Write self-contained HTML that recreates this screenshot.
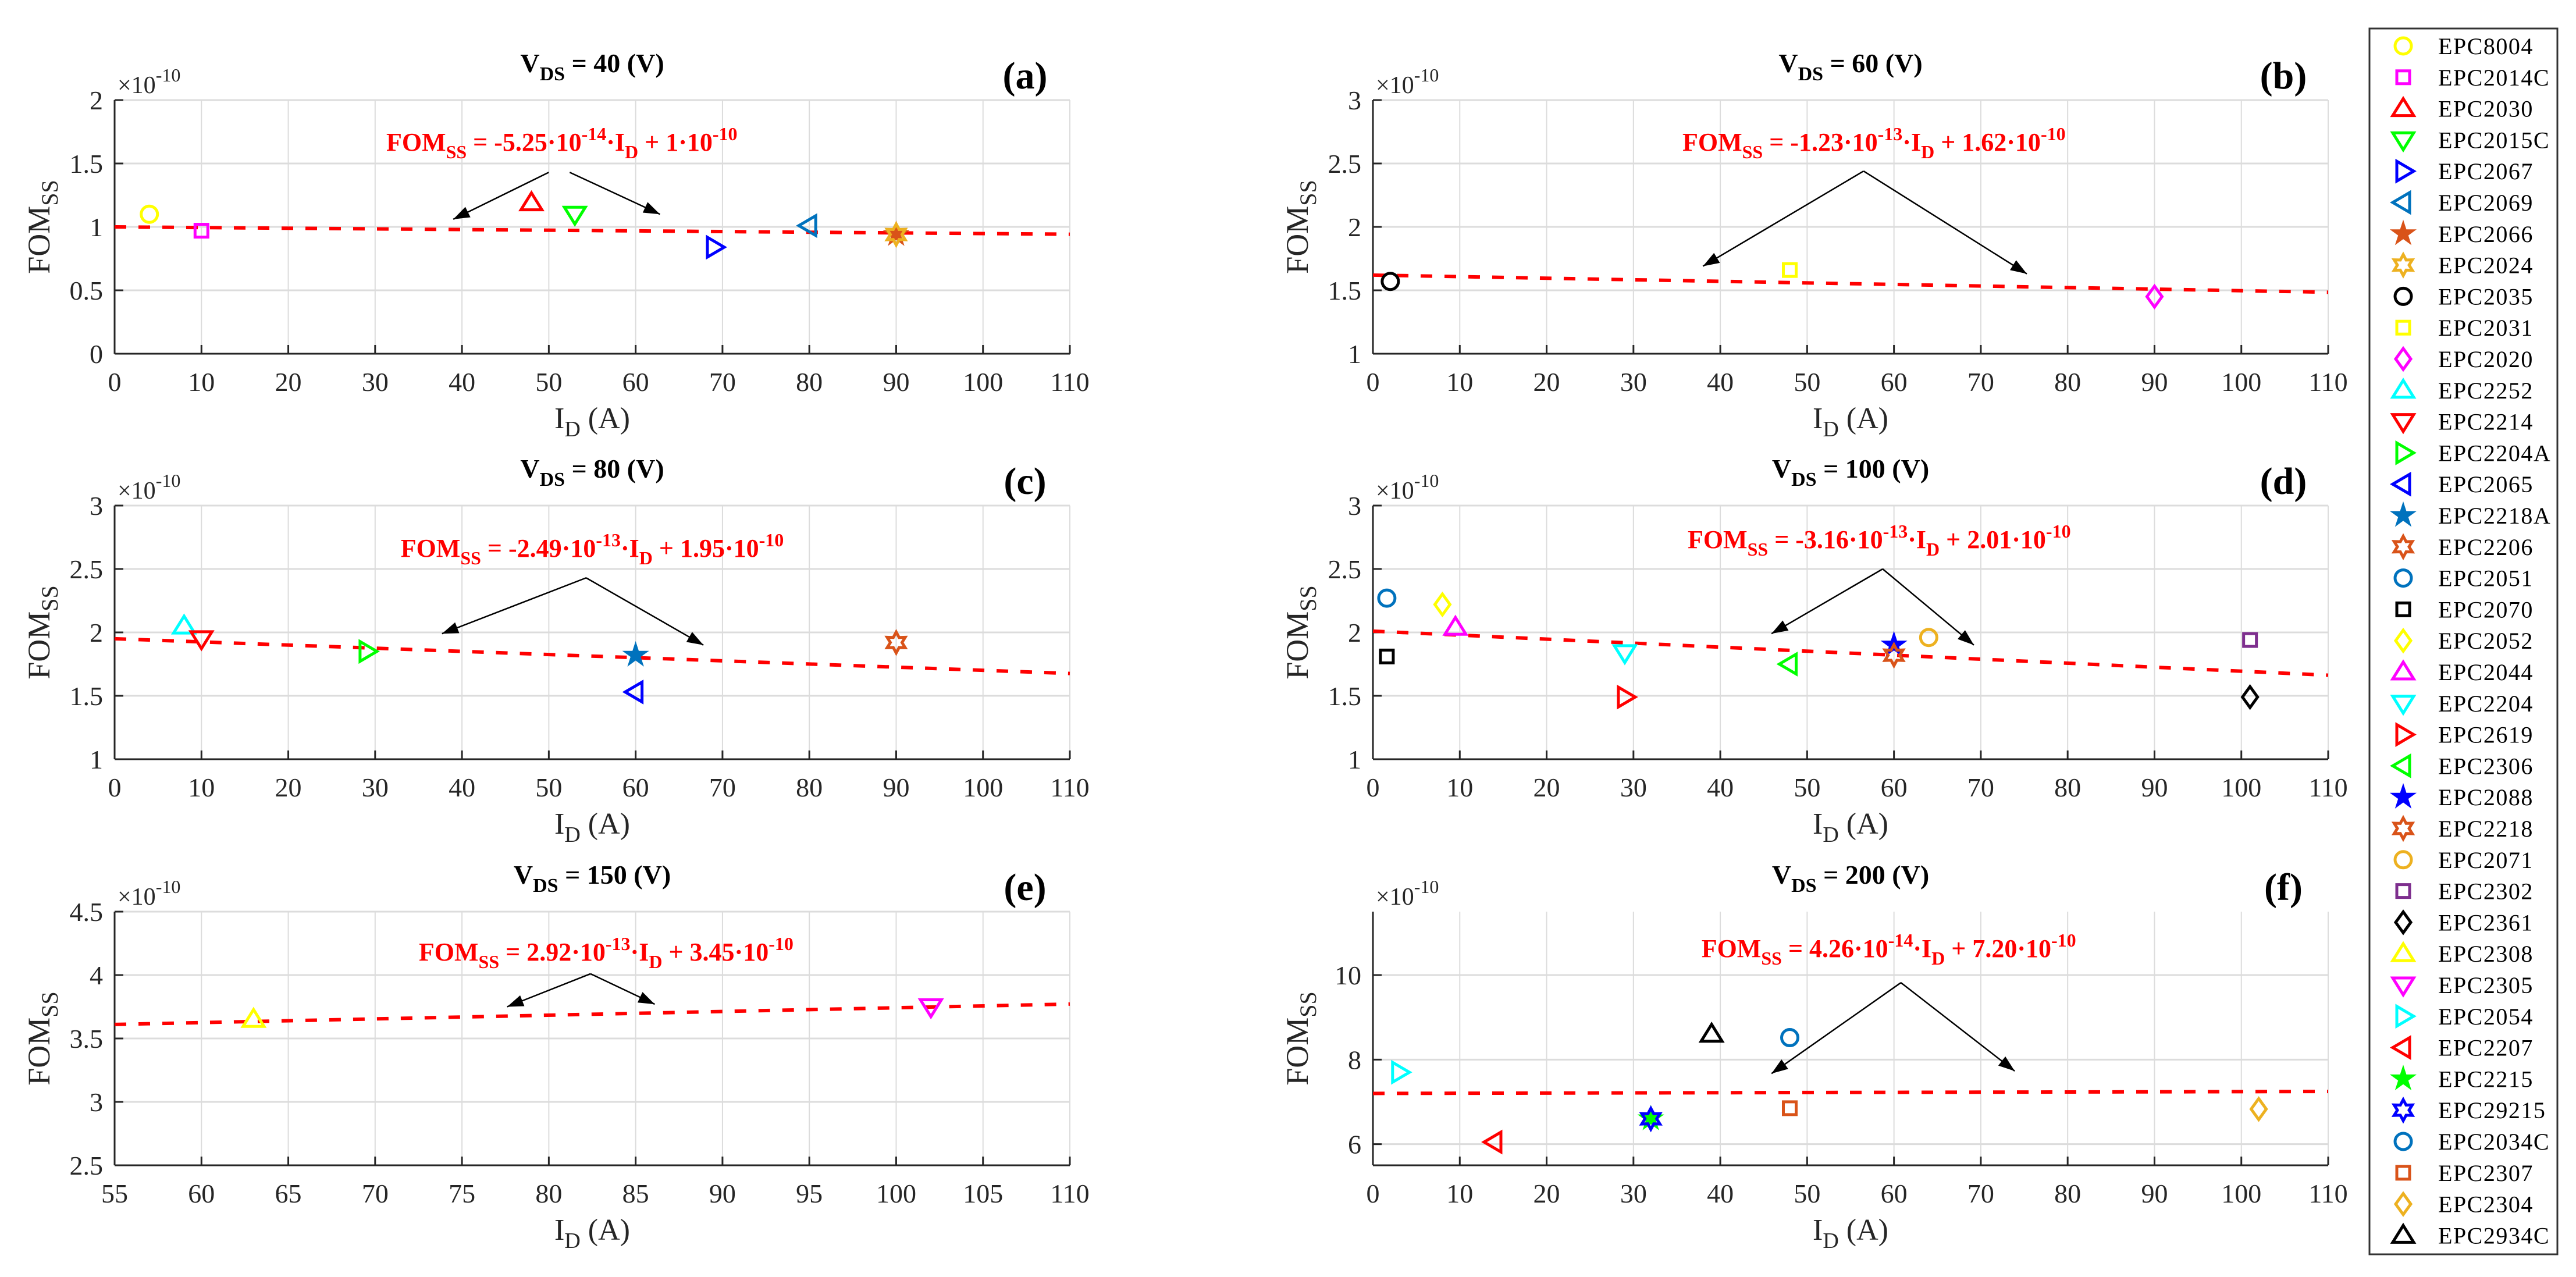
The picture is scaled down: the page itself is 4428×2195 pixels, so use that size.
<!DOCTYPE html>
<html>
<head>
<meta charset="utf-8">
<style>
html,body{margin:0;padding:0;background:#fff;}
svg{display:block;font-family:"Liberation Serif","DejaVu Serif",serif;}
</style>
</head>
<body>
<svg id="fig" xmlns="http://www.w3.org/2000/svg" width="4428" height="2195" viewBox="0 0 4428 2195"></svg>
<script>
// ---- data ----
const deviceNames = ["EPC8004","EPC2014C","EPC2030","EPC2015C","EPC2067","EPC2069","EPC2066","EPC2024","EPC2035","EPC2031","EPC2020","EPC2252","EPC2214","EPC2204A","EPC2065","EPC2218A","EPC2206","EPC2051","EPC2070","EPC2052","EPC2044","EPC2204","EPC2619","EPC2306","EPC2088","EPC2218","EPC2071","EPC2302","EPC2361","EPC2308","EPC2305","EPC2054","EPC2207","EPC2215","EPC29215","EPC2034C","EPC2307","EPC2304","EPC2934C"];
const devicePanel = ["a","a","a","a","a","a","a","a","b","b","b","c","c","c","c","c","c","d","d","d","d","d","d","d","d","d","d","d","d","e","e","f","f","f","f","f","f","f","f"];
const deviceCurrent = [4,10,48,53,69,80,90,90, 2,48,90, 8,10,29,60,60,90, 1.6,1.6,8,9.5,29,29,48,60,60,64,101,101, 63,102, 3,14,32,32,48,48,102,39];
const deviceFom = [1.10,0.97,1.19,1.10,0.84,1.01,0.94,0.94, 1.57,1.66,1.45, 2.05,1.95,1.85,1.53,1.82,1.92, 2.27,1.81,2.22,2.04,1.84,1.49,1.75,1.90,1.82,1.96,1.94,1.49, 3.65,3.75, 7.70,6.05,6.60,6.60,8.52,6.85,6.83,8.60];
const panelIds = ["a","b","c","d","e","f"];
const panelVds = ["40","60","80","100","150","200"];
const fitSlope = [-0.000525,-0.00123,-0.00249,-0.00316,0.00292,0.000426];
const fitIntercept = [1,1.62,1.95,2.01,3.45,7.20];
const eqSlopeText = ["-5.25·10","-1.23·10","-2.49·10","-3.16·10","2.92·10","4.26·10"];
const eqSlopeExp = ["-14","-13","-13","-13","-13","-14"];
const eqInterText = ["1·10","1.62·10","1.95·10","2.01·10","3.45·10","7.20·10"];
const xTickLabels = [["0","10","20","30","40","50","60","70","80","90","100","110"],["0","10","20","30","40","50","60","70","80","90","100","110"],["0","10","20","30","40","50","60","70","80","90","100","110"],["0","10","20","30","40","50","60","70","80","90","100","110"],["55","60","65","70","75","80","85","90","95","100","105","110"],["0","10","20","30","40","50","60","70","80","90","100","110"]];
const yTickLabels = [["0","0.5","1","1.5","2"],["1","1.5","2","2.5","3"],["1","1.5","2","2.5","3"],["1","1.5","2","2.5","3"],["2.5","3","3.5","4","4.5"],["6","8","10"]];
const xLimits = [[0,110],[0,110],[0,110],[0,110],[55,110],[0,110]];
const yLimits = [[0,2],[1,3],[1,3],[1,3],[2.5,4.5],[5.5,11.5]];
// annotation anchor points in data coordinates: equation center, arrow start, arrow ends
const eqX = [51.5,57.7,55,58.3,83.3,59.4];
const eqY = [1.665,2.665,2.66,2.73,4.18,10.62];
const arrowFromX = [51.2,56.5,54.3,58.7,82.4,60.8];
const arrowFromY = [1.43,2.44,2.43,2.50,4.01,9.82];
const arrowEnd1X = [39,38,37.7,45.9,77.6,45.9];
const arrowEnd1Y = [1.06,1.69,1.99,1.99,3.75,7.67];
const arrowEnd2X = [62.8,75.3,67.8,69.2,86.1,73.9];
const arrowEnd2Y = [1.10,1.63,1.90,1.90,3.77,7.73];

// ---- styles ----
const markerType = ["o","s","^","v",">","<","p","h","o","s","d","^","v",">","<","p","h","o","s","d","^","v",">","<","p","h","o","s","d","^","v",">","<","p","h","o","s","d","^"];
const C_BLUE="#0072bd",C_OR="#d95319",C_GOLD="#edb120",C_PUR="#7e2f8e";
const markerColor = ["#ffff00","#ff00ff","#ff0000","#00ff00","#0000ff",C_BLUE,C_OR,C_GOLD,"#000000","#ffff00","#ff00ff","#00ffff","#ff0000","#00ff00","#0000ff",C_BLUE,C_OR,C_BLUE,"#000000","#ffff00","#ff00ff","#00ffff","#ff0000","#00ff00","#0000ff",C_OR,C_GOLD,C_PUR,"#000000","#ffff00","#ff00ff","#00ffff","#ff0000","#00ff00","#0000ff",C_BLUE,C_OR,C_GOLD,"#000000"];
const panelLeft=[197,2360,197,2360,197,2360];
const panelTop=[172,172,869,869,1567,1567];
const PW=1642, PH=436;

const NS="http://www.w3.org/2000/svg";
const svg=document.getElementById('fig');
function mk(tag,attrs,parent){const e=document.createElementNS(NS,tag);for(const k in attrs)e.setAttribute(k,attrs[k]);(parent||svg).appendChild(e);return e;}

function drawMarker(g,type,cx,cy,color,name){
  let e;const sw=5;
  if(type==="o"){e=mk('circle',{cx:cx,cy:cy,r:14,fill:'none',stroke:color,'stroke-width':sw},g);}
  else if(type==="s"){e=mk('rect',{x:cx-11,y:cy-11,width:22,height:22,fill:'none',stroke:color,'stroke-width':sw},g);}
  else if(type==="d"){e=mk('polygon',{points:`${cx},${cy-18} ${cx+13},${cy} ${cx},${cy+18} ${cx-13},${cy}`,fill:'none',stroke:color,'stroke-width':sw},g);}
  else if(type==="^"){e=mk('polygon',{points:`${cx},${cy-17} ${cx+18},${cy+12} ${cx-18},${cy+12}`,fill:'none',stroke:color,'stroke-width':sw},g);}
  else if(type==="v"){e=mk('polygon',{points:`${cx},${cy+17} ${cx+18},${cy-12} ${cx-18},${cy-12}`,fill:'none',stroke:color,'stroke-width':sw},g);}
  else if(type===">"){e=mk('polygon',{points:`${cx+18},${cy} ${cx-11},${cy-17} ${cx-11},${cy+17}`,fill:'none',stroke:color,'stroke-width':sw},g);}
  else if(type==="<"){e=mk('polygon',{points:`${cx-18},${cy} ${cx+11},${cy-17} ${cx+11},${cy+17}`,fill:'none',stroke:color,'stroke-width':sw},g);}
  else if(type==="p"){let p=[];for(let i=0;i<10;i++){const r=i%2?8:21;const a=-Math.PI/2+i*Math.PI/5;p.push((cx+r*Math.cos(a)).toFixed(1)+','+(cy+r*Math.sin(a)).toFixed(1));}
    e=mk('polygon',{points:p.join(' '),fill:color,stroke:color,'stroke-width':2},g);}
  else {let p=[];for(let i=0;i<12;i++){const r=i%2?10:18;const a=-Math.PI/2+i*Math.PI/6;p.push((cx+r*Math.cos(a)).toFixed(1)+','+(cy+r*Math.sin(a)).toFixed(1));}
    e=mk('polygon',{points:p.join(' '),fill:'none',stroke:color,'stroke-width':sw},g);}
  
  
  return e;
}

function arrow(g,x1,y1,x2,y2,name){
  const ln=mk('line',{x1:x1,y1:y1,x2:x2,y2:y2,stroke:'#000','stroke-width':2.5},g);
  
  
  const a=Math.atan2(y2-y1,x2-x1),L=28,Wd=10;
  const bx=x2-L*Math.cos(a),by=y2-L*Math.sin(a);
  const px=-Math.sin(a)*Wd,py=Math.cos(a)*Wd;
  const hd=mk('polygon',{points:`${x2},${y2} ${bx+px},${by+py} ${bx-px},${by-py}`,fill:'#000'},g);
  
  
}

panelIds.forEach((pid,pi)=>{
  const x0=panelLeft[pi],y0=panelTop[pi];
  const [xmin,xmax]=xLimits[pi],[ymin,ymax]=yLimits[pi];
  const sx=v=>x0+(v-xmin)/(xmax-xmin)*PW;
  const sy=v=>y0+PH-(v-ymin)/(ymax-ymin)*PH;
  const g=mk('g',{});
  
  
  // grid
  xTickLabels[pi].forEach(t=>{const v=parseFloat(t);const X=sx(v);
    const gl=mk('line',{x1:X,y1:y0,x2:X,y2:y0+PH,stroke:'#dcdcdc','stroke-width':2},g);
    
    });
  yTickLabels[pi].forEach(t=>{const v=parseFloat(t);const Y=sy(v);
    const gl=mk('line',{x1:x0,y1:Y,x2:x0+PW,y2:Y,stroke:'#dcdcdc','stroke-width':3},g);
    
    });
  // axes
  const ax=mk('line',{x1:x0,y1:y0+PH,x2:x0+PW,y2:y0+PH,stroke:'#262626','stroke-width':3},g);
  
  
  const ay=mk('line',{x1:x0,y1:y0,x2:x0,y2:y0+PH,stroke:'#262626','stroke-width':3},g);
  
  
  xTickLabels[pi].forEach(t=>{const v=parseFloat(t);const X=sx(v);
    const tk=mk('line',{x1:X,y1:y0+PH,x2:X,y2:y0+PH-15,stroke:'#262626','stroke-width':3},g);
    
    
    const tl=mk('text',{x:X,y:y0+PH+64,'text-anchor':'middle','font-size':46,fill:'#262626'},g);
    tl.textContent=t;
    
    });
  yTickLabels[pi].forEach(t=>{const v=parseFloat(t);const Y=sy(v);
    const tk=mk('line',{x1:x0,y1:Y,x2:x0+15,y2:Y,stroke:'#262626','stroke-width':3},g);
    
    
    const tl=mk('text',{x:x0-20,y:Y+16,'text-anchor':'end','font-size':46,fill:'#262626'},g);
    tl.textContent=t;
    
    });
  // exponent
  const ex=mk('text',{x:x0+5,y:y0-12,'font-size':42,fill:'#262626'},g);
  ex.innerHTML='×10<tspan dy="-20" font-size="32">-10</tspan>';
  
  
  // y label
  const yl=mk('text',{x:0,y:0,'text-anchor':'middle','font-size':54,fill:'#262626',transform:`translate(${x0-112},${y0+PH/2}) rotate(-90)`},g);
  yl.innerHTML='FOM<tspan dy="14" font-size="40">SS</tspan>';
  
  
  // x label
  const xl=mk('text',{x:x0+PW/2,y:y0+PH+128,'text-anchor':'middle','font-size':52,fill:'#262626'},g);
  xl.innerHTML='I<tspan dy="14" font-size="38">D</tspan><tspan dy="-14"> (A)</tspan>';
  
  
  // title
  const tt=mk('text',{x:x0+PW/2,y:y0-48,'text-anchor':'middle','font-size':46,'font-weight':'bold',fill:'#000'},g);
  tt.innerHTML='V<tspan dy="14" font-size="34">DS</tspan><tspan dy="-14"> = '+panelVds[pi]+' (V)</tspan>';
  
  
  const pl=mk('text',{x:x0+PW-77,y:y0-20,'text-anchor':'middle','font-size':66,'font-weight':'bold',fill:'#000'},g);
  pl.textContent='('+pid+')';
  
  
  // fit line
  const fl=mk('line',{x1:sx(xmin),y1:sy(fitIntercept[pi]+fitSlope[pi]*xmin),x2:sx(xmax),y2:sy(fitIntercept[pi]+fitSlope[pi]*xmax),stroke:'#ff0000','stroke-width':6,'stroke-dasharray':'20 21'},g);
  
  
  // equation
  const eq=mk('text',{x:sx(eqX[pi]),y:sy(eqY[pi])+14,'text-anchor':'middle','font-size':44,'font-weight':'bold',fill:'#ff0000'},g);
  eq.innerHTML='FOM<tspan dy="13" font-size="32">SS</tspan><tspan dy="-13"> = '+eqSlopeText[pi]+'</tspan><tspan dy="-18" font-size="32">'+eqSlopeExp[pi]+'</tspan><tspan dy="18">·I</tspan><tspan dy="13" font-size="32">D</tspan><tspan dy="-13"> + '+eqInterText[pi]+'</tspan><tspan dy="-18" font-size="32">-10</tspan>';
  
  
  const fx=sx(arrowFromX[pi]),fy=sy(arrowFromY[pi]);
  const off=(pi===0)?18:0;
  arrow(g,fx-off,fy,sx(arrowEnd1X[pi]),sy(arrowEnd1Y[pi]),'arrow-left');
  arrow(g,fx+off,fy,sx(arrowEnd2X[pi]),sy(arrowEnd2Y[pi]),'arrow-right');
  // points
  deviceNames.forEach((n,i)=>{
    if(devicePanel[i]!==pid)return;
    drawMarker(g,markerType[i],sx(deviceCurrent[i]),sy(deviceFom[i]),markerColor[i],'point-'+n.toLowerCase());
  });
});

// legend
const lg=mk('g',{});


const lb=mk('rect',{x:4073,y:49,width:323,height:2107,fill:'#fff',stroke:'#333','stroke-width':3},lg);


deviceNames.forEach((n,i)=>{
  const cy=79+i*53.8;
  const eg=mk('g',{},lg);
  
  
  drawMarker(eg,markerType[i],4131,cy,markerColor[i],'legend-marker');
  const t=mk('text',{x:4191,y:cy+14,'font-size':40,'letter-spacing':1.5,fill:'#000'},eg);
  t.textContent=n;
  
  
});
</script>
</body>
</html>
